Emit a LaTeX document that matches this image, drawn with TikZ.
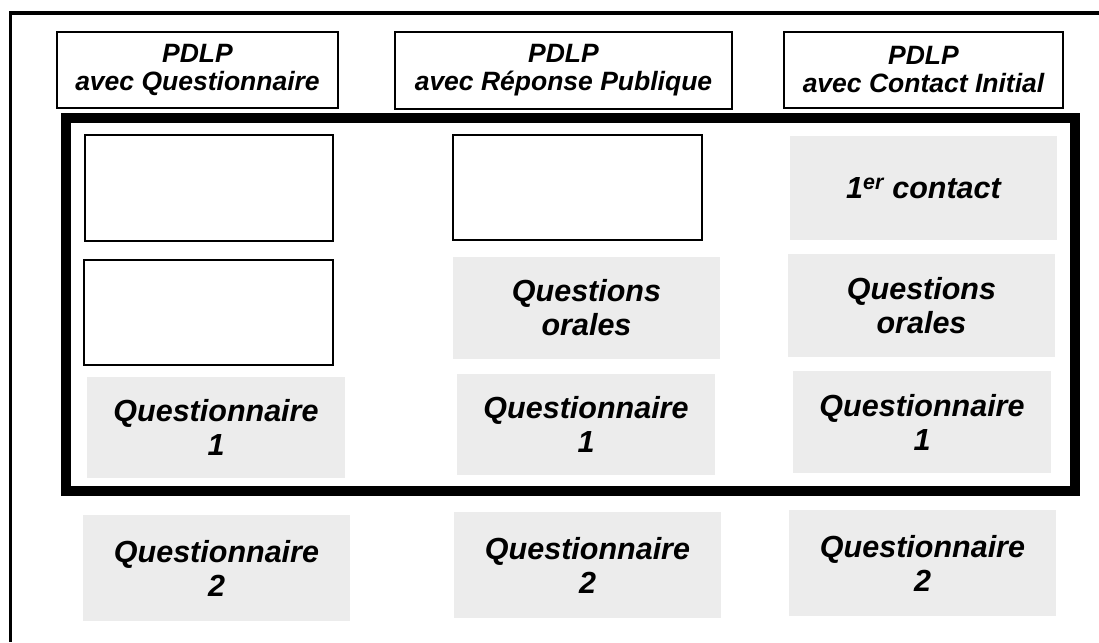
\documentclass[tikz,border=0pt]{standalone}
\usepackage{fontspec}
\setmainfont{Liberation Sans}
\definecolor{cellgray}{HTML}{ECECEC}
\begin{document}
\begin{tikzpicture}[x=1pt,y=-1pt,
  head/.style={draw=black,line width=1.5pt,fill=white,align=center,inner sep=0pt,
    font=\fontsize{26.5}{28}\selectfont\bfseries\itshape},
  blank/.style={draw=black,line width=1.6pt,fill=white,inner sep=0pt},
  cell/.style={fill=cellgray,align=center,inner sep=0pt,
    font=\fontsize{30.5}{34}\selectfont\bfseries\itshape}]
\useasboundingbox (0,0) rectangle (1099,642);
% outer page frame (open on the right and bottom)
\draw[line width=3.5pt] (1099,13) -- (10.5,13) -- (10.5,642);
% column headers
\node[head,minimum width=281,minimum height=76] (h1) at (197.5,70) {PDLP\\avec Questionnaire};
\node[head,minimum width=337,minimum height=77] (h2) at (563.5,70.5) {PDLP\\avec Réponse Publique};
\node[head,minimum width=279,minimum height=76] (h3) at (923.5,70) {PDLP\\avec Contact Initial};
% thick group frame
\draw[line width=10pt] (65.5,118) rectangle (1074.5,491);
% first row
\node[blank,minimum width=248,minimum height=106] (w11) at (209,188) {};
\node[blank,minimum width=249,minimum height=105] (w21) at (577.5,187.5) {};
\node[cell,minimum width=267,minimum height=104] (c31) at (923.5,188) {1\textsuperscript{er} contact};
% second row
\node[blank,minimum width=249,minimum height=105] (w12) at (208.5,312.5) {};
\node[cell,minimum width=267,minimum height=102] (c22) at (586.5,308) {Questions\\orales};
\node[cell,minimum width=267,minimum height=103] (c32) at (921.5,305.5) {Questions\\orales};
% third row
\node[cell,minimum width=258,minimum height=101] (q11) at (216,427.5) {Questionnaire\\1};
\node[cell,minimum width=258,minimum height=101] (q12) at (586,424.5) {Questionnaire\\1};
\node[cell,minimum width=258,minimum height=102] (q13) at (922,422) {Questionnaire\\1};
% below the frame
\node[cell,minimum width=267,minimum height=106] (q21) at (216.5,568) {Questionnaire\\2};
\node[cell,minimum width=267,minimum height=106] (q22) at (587.5,565) {Questionnaire\\2};
\node[cell,minimum width=267,minimum height=106] (q23) at (922.5,563) {Questionnaire\\2};
\end{tikzpicture}
\end{document}
